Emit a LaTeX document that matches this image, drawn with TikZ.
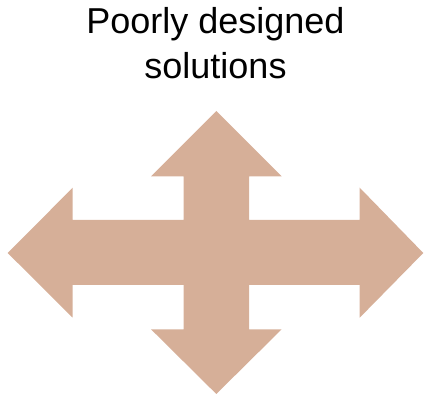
\documentclass[tikz,border=0pt]{standalone}
\usepackage{fontspec}
\setmainfont{Liberation Sans}
\definecolor{arrowtan}{RGB}{214,175,152}
\begin{document}
\begin{tikzpicture}[x=1pt,y=-1pt,
  titletext/.style={anchor=base,inner sep=0pt,font=\fontsize{36}{43}\selectfont,text=black}]
\useasboundingbox (0,0) rectangle (424,395);
\node[titletext] (t1) at (215.5,33.5) {Poorly designed};
\node[titletext] (t2) at (215.5,79) {solutions};
\fill[arrowtan] (216.3,111) -- (281.7,176.3) -- (249,176.3) -- (249,220) -- (359.7,220) -- (359.7,187.7) -- (423.3,253) -- (359.7,317.7) -- (359.7,285) -- (249,285) -- (249,329.3) -- (281.7,329.3) -- (216.3,394) -- (151,329.3) -- (183.7,329.3) -- (183.7,285) -- (72.7,285) -- (72.7,317.7) -- (7.7,253) -- (72.7,187.7) -- (72.7,220) -- (183.7,220) -- (183.7,176.3) -- (151,176.3) -- cycle;
\end{tikzpicture}
\end{document}
